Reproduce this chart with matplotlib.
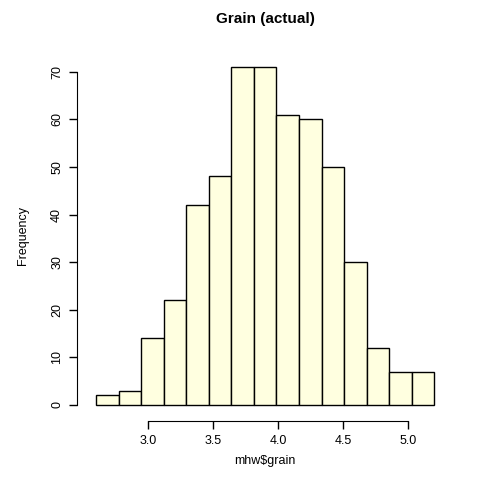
import numpy as np
import matplotlib
matplotlib.use('Agg')
import matplotlib.pyplot as plt

plt.rcParams['font.family'] = ['Liberation Sans', 'DejaVu Sans']

# 資料：15 個區間 (2.6 ~ 5.2) 的次數
bin_edges = np.linspace(2.6, 5.2, 16)
counts = [2, 3, 14, 22, 42, 48, 71, 71, 61, 60, 50, 30, 12, 7, 7]
x_ticks = [3.0, 3.5, 4.0, 4.5, 5.0]
y_ticks = [0, 10, 20, 30, 40, 50, 60, 70]

fig = plt.figure(figsize=(4.8, 4.91), dpi=100)
ax = fig.add_axes([0.172, 0.148, 0.761, 0.743])

ax.bar(bin_edges[:-1], counts, width=np.diff(bin_edges), align='edge',
       color='#FFFFE0', edgecolor='black', linewidth=1.0)

ax.set_xlim(2.496, 5.304)
ax.set_ylim(-2.84, 73.84)

ax.set_xticks(x_ticks)
ax.set_xticklabels([f'{t:.1f}' for t in x_ticks])
ax.set_yticks(y_ticks)
ax.set_yticklabels([str(t) for t in y_ticks])

for side in ['top', 'right']:
    ax.spines[side].set_visible(False)
ax.spines['left'].set_bounds(0, 70)
ax.spines['bottom'].set_bounds(3.0, 5.0)
ax.spines['left'].set_position(('outward', 4))
ax.spines['bottom'].set_position(('outward', 2))
ax.tick_params(direction='out', length=6, width=1, labelsize=9, pad=4)
ax.tick_params(axis='y', labelrotation=90)
for lbl in ax.get_yticklabels():
    lbl.set_va('center')

ax.set_xlabel('mhw$grain', fontsize=9, labelpad=6)
ax.set_ylabel('Frequency', fontsize=9, labelpad=16)
ax.set_title('Grain (actual)', fontsize=11, fontweight='bold', pad=22)

fig.savefig('out.png', dpi=100)
